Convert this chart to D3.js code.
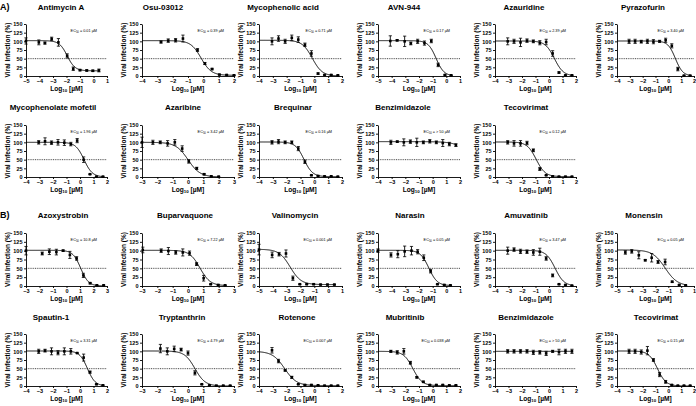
<!DOCTYPE html>
<html>
<head>
<meta charset="utf-8">
<script src="https://cdn.jsdelivr.net/npm/d3@7"></script>
<style>
  body { margin: 0; background: #fff; }
  svg { display: block; font-family: "Liberation Sans", Arial, sans-serif; }
  .axis path, .axis line { stroke: #000; stroke-width: 0.9; }
  .axis text { font-size: 5.5px; font-weight: bold; fill: #000; }
</style>
</head>
<body>
<div id="chart"></div>
<script>
// DATA
const titles = ['Antimycin A', 'Osu-03012', 'Mycophenolic acid', 'AVN-944', 'Azauridine', 'Pyrazofurin',
  'Mycophenolate mofetil', 'Azaribine', 'Brequinar', 'Benzimidazole', 'Tecovirimat',
  'Azoxystrobin', 'Buparvaquone', 'Valinomycin', 'Narasin', 'Amuvatinib', 'Monensin',
  'Spautin-1', 'Tryptanthrin', 'Rotenone', 'Mubritinib', 'Benzimidazole', 'Tecovirimat'];

const ec50Values = ['0.01', '0.39', '0.71', '0.17', '2.39', '3.40',
  '1.96', '3.42', '0.16', '> 50', '0.12',
  '10.8', '7.22', '0.001', '0.05', '3.47', '0.05',
  '3.31', '4.79', '0.007', '0.038', '> 50', '0.15'];

const xDomains = [[-5, 1], [-4, 2], [-4, 2], [-5, 1], [-4, 2], [-4, 2],
  [-4, 2], [-3, 3], [-4, 2], [-4, 2], [-4, 2],
  [-3, 3], [-3, 3], [-5, 1], [-5, 1], [-4, 2], [-5, 1],
  [-4, 2], [-3, 3], [-4, 2], [-4, 2], [-4, 2], [-4, 2]];

// log10 concentrations of each point
const std50 = [-3.06, -2.59, -2.11, -1.63, -1.16, -0.68, -0.21, 0.27, 0.74, 1.22, 1.70];
const logDose = [
  [-5.0, -4.05, -3.6, -3.1, -2.6, -1.95, -1.5, -1.0, -0.5, -0.05, 0.4],
  [-2.76, -2.29, -1.81, -1.33, -0.38, 0.1, 0.57, 1.05, 1.52, 2.0],
  std50,
  [-4.1, -3.6, -3.05, -2.6, -2.1, -1.6, -1.1, -0.6, -0.1, 0.35],
  std50,
  std50,
  std50,
  [-3.0, -2.29, -1.81, -1.33, -0.86, -0.38, 0.05, 0.57, 1.05, 1.52, 2.0],
  std50,
  std50,
  std50,
  [-3.0, -1.8, -1.27, -0.75, -0.25, 0.25, 0.75, 1.25, 1.75, 2.25, 2.75],
  [-2.95, -1.75, -1.28, -0.8, -0.34, 0.1, 0.56, 1.02, 1.48, 1.97, 2.42],
  [-5.0, -4.05, -3.55, -3.05, -2.55, -2.05, -1.55, -1.05, -0.55, -0.05, 0.45],
  [-5.0, -4.05, -3.55, -3.05, -2.55, -2.1, -1.65, -1.15, -0.65, -0.15, 0.3],
  std50,
  [-4.35, -3.85, -3.3, -2.8, -2.3, -1.8, -1.25, -0.7, -0.15, 0.35],
  std50,
  [-1.8, -1.35, -0.9, -0.45, 0.0, 0.45, 0.9, 1.4, 1.85, 2.3, 2.75],
  std50,
  std50,
  std50,
  std50
];

// viral infection (%) mean of each point
const infection = [
  [101, 97, 95, 107, 97, 58, 21, 17, 16, 15, 16],
  [98, 102, 103, 108, 75, 36, 20, 4, 3, 2],
  [100, 108, 100, 110, 105, 90, 65, 7, 3, 3, 2],
  [101, 103, 100, 94, 100, 95, 101, 32, 3, 2],
  [100, 100, 97, 102, 100, 96, 98, 65, 10, 2, 2],
  [100, 100, 99, 100, 99, 100, 103, 87, 20, 1, 1],
  [100, 103, 99, 100, 99, 95, 105, 50, 8, 1, 1],
  [100, 100, 100, 97, 100, 82, 45, 25, 8, 2, 1],
  [100, 102, 100, 100, 82, 44, 5, 3, 2, 2, 1],
  [100, 102, 100, 102, 100, 100, 103, 100, 98, 95, 92],
  [100, 97, 97, 98, 77, 23, 5, 2, 1, 1, 1],
  [100, 92, 97, 96, 100, 88, 78, 30, 8, 2, 2],
  [102, 100, 99, 95, 95, 93, 62, 22, 5, 3, 2],
  [103, 88, 90, 92, 22, 5, 5, 5, 4, 4, 4],
  [100, 88, 90, 98, 100, 97, 80, 42, 5, 3, 2],
  [100, 103, 98, 97, 95, 97, 78, 30, 5, 3, 1],
  [95, 98, 87, 73, 80, 68, 68, 12, 3, 2],
  [100, 102, 100, 96, 100, 100, 95, 82, 40, 5, 2],
  [108, 100, 107, 105, 95, 38, 5, 2, 1, 1, 1],
  [103, 72, 45, 25, 5, 3, 3, 2, 1, 1, 1],
  [100, 97, 100, 67, 25, 12, 3, 3, 3, 2, 2],
  [100, 100, 100, 100, 97, 97, 94, 100, 98, 100, 100],
  [100, 100, 98, 102, 75, 33, 12, 3, 1, 1, 1]
];

// error (SD) of each point
const errBar = [
  [9, 7, 3, 5, 11, 6, 5, 2, 2, 2, 4],
  [3, 5, 5, 10, 4, 3, 2, 1, 1, 1],
  [10, 8, 6, 8, 8, 5, 8, 2, 1, 1, 1],
  [15, 2, 15, 4, 6, 6, 5, 5, 1, 1],
  [10, 6, 12, 5, 4, 6, 8, 8, 2, 1, 1],
  [6, 6, 4, 6, 6, 3, 6, 6, 5, 1, 1],
  [5, 10, 5, 8, 8, 5, 6, 8, 1, 1, 1],
  [15, 6, 4, 8, 8, 8, 5, 3, 2, 1, 1],
  [5, 6, 4, 4, 6, 5, 1, 1, 1, 1, 1],
  [6, 2, 10, 5, 12, 4, 5, 4, 10, 5, 4],
  [5, 8, 8, 5, 4, 4, 1, 1, 1, 1, 1],
  [12, 4, 8, 8, 2, 10, 5, 6, 2, 1, 1],
  [8, 5, 10, 5, 10, 6, 4, 8, 1, 1, 1],
  [15, 8, 5, 10, 6, 1, 1, 1, 1, 1, 1],
  [5, 6, 10, 15, 12, 6, 8, 5, 1, 1, 1],
  [10, 5, 6, 5, 8, 10, 5, 4, 1, 1, 1],
  [5, 5, 10, 2, 12, 4, 8, 2, 1, 1],
  [6, 4, 10, 6, 10, 8, 1, 10, 3, 1, 1],
  [12, 10, 8, 4, 6, 6, 1, 1, 1, 1, 1],
  [8, 5, 2, 3, 1, 1, 1, 1, 1, 1, 1],
  [3, 5, 8, 4, 2, 2, 1, 1, 1, 1, 1],
  [5, 5, 5, 5, 6, 5, 6, 3, 8, 6, 6],
  [6, 6, 6, 12, 4, 6, 4, 1, 1, 1, 1]
];

// fitted dose-response parameters (top, bottom, log EC50, hill slope)
const fitTop    = [102, 102, 103, 102, 101, 101, 100, 100, 101, 102, 101, 101, 101, 104, 101, 101, 102, 101, 101, 100, 100, 100, 101];
const fitBottom = [15, 2, 0, 0, 0, 0, 0, 0, 1, 0, 1, 0, 1, 4, 1, 0, 0, 0, 0, 1, 1, 0, 0];
const fitLogEC  = [-1.95, -0.15, -0.15, -0.75, 0.4, 0.55, 0.3, 0.0, -0.75, 3.0, -0.95, 1.05, 0.78, -2.75, -1.28, 0.45, -1.25, 0.55, 0.45, -2.15, -1.45, 5, -0.85];
const fitHill   = [1.5, 1.3, 1.2, 1.5, 1.3, 1.5, 1.4, 1.1, 1.4, 0.8, 1.3, 1.5, 1.3, 1.1, 1.4, 1.3, 0.9, 1.5, 1.3, 1.0, 1.3, 1, 1.3];

const yTicks = [0, 25, 50, 75, 100, 125, 150];

// LAYOUT
const panelRow = [0, 0, 0, 0, 0, 0, 1, 1, 1, 1, 1, 2, 2, 2, 2, 2, 2, 3, 3, 3, 3, 3, 3];
const panelCol = [0, 1, 2, 3, 4, 5, 0, 1, 2, 3, 4, 0, 1, 2, 3, 4, 5, 0, 1, 2, 3, 4, 5];
const colLeft  = [26, 142, 259, 378, 495, 617];
const colRight = [107, 234, 342, 460, 576, 694];
const rowTop    = [24, 125, 233, 334];
const rowBottom = [76, 177, 286, 386];
const titleX = [61, 163, 283, 404, 524, 643, 53, 183, 293, 403, 526, 63, 185, 295, 410, 526, 644, 51, 182, 297, 405, 526, 656];
const titleY = [10, 110, 218, 320];

const svg = d3.select('#chart').append('svg')
  .attr('width', 696)
  .attr('height', 406);

// section letters
svg.append('text').attr('x', 0).attr('y', 10).attr('font-size', 9).attr('font-weight', 'bold').text('A)');
svg.append('text').attr('x', 0).attr('y', 218).attr('font-size', 9).attr('font-weight', 'bold').text('B)');

function hill(i, lx) {
  return fitBottom[i] + (fitTop[i] - fitBottom[i]) / (1 + Math.pow(10, fitHill[i] * (lx - fitLogEC[i])));
}

titles.forEach(function(title, i) {
  let r = panelRow[i], c = panelCol[i];
  let x = d3.scaleLinear().domain(xDomains[i]).range([colLeft[c], colRight[c]]);
  let y = d3.scaleLinear().domain([0, 150]).range([rowBottom[r], rowTop[r]]);
  let g = svg.append('g');

  // title
  g.append('text')
    .attr('x', titleX[i]).attr('y', titleY[r])
    .attr('text-anchor', 'middle')
    .attr('font-size', 8).attr('font-weight', 'bold')
    .text(title);

  // 50% line
  g.append('line')
    .attr('x1', x.range()[0]).attr('x2', x.range()[1])
    .attr('y1', y(50)).attr('y2', y(50))
    .attr('stroke', '#000').attr('stroke-width', 0.7)
    .attr('stroke-dasharray', '1,0.8');

  // axes
  let xt = d3.range(xDomains[i][0], xDomains[i][1] + 1);
  g.append('g').attr('class', 'axis')
    .attr('transform', 'translate(0,' + y(0) + ')')
    .call(d3.axisBottom(x).tickValues(xt).tickFormat(d3.format('d')).tickSize(2).tickSizeOuter(0).tickPadding(1.5));
  g.append('g').attr('class', 'axis')
    .attr('transform', 'translate(' + x.range()[0] + ',0)')
    .call(d3.axisLeft(y).tickValues(yTicks).tickSize(2).tickSizeOuter(0).tickPadding(1.5));

  // axis labels
  g.append('text')
    .attr('transform', 'translate(' + (x.range()[0] - 16.5) + ',' + ((y(0) + y(150)) / 2) + ') rotate(-90)')
    .attr('text-anchor', 'middle')
    .attr('font-size', 6.5).attr('font-weight', 'bold')
    .text('Viral Infection (%)');
  let xl = g.append('text')
    .attr('x', (x.range()[0] + x.range()[1]) / 2).attr('y', y(0) + 14.5)
    .attr('text-anchor', 'middle')
    .attr('font-size', 6.6).attr('font-weight', 'bold');
  xl.append('tspan').text('Log');
  xl.append('tspan').attr('font-size', 4.4).attr('dy', 1.5).text('10');
  xl.append('tspan').attr('dy', -1.5).text(' [\u00b5M]');

  // EC50 label
  let ec = g.append('text')
    .attr('x', x.range()[1] - 10).attr('y', y(126))
    .attr('text-anchor', 'end')
    .attr('font-size', 3.8);
  ec.append('tspan').text('EC');
  ec.append('tspan').attr('font-size', 2.7).attr('dy', 0.8).text('50');
  ec.append('tspan').attr('dy', -0.8).text(' = ' + ec50Values[i] + ' \u00b5M');

  // fitted curve
  let xs = logDose[i];
  let cx = d3.range(xDomains[i][0], d3.max(xs) + 0.1, 0.02);
  g.append('path')
    .datum(cx)
    .attr('fill', 'none').attr('stroke', '#000').attr('stroke-width', 1)
    .attr('d', d3.line().x(d => x(d)).y(d => y(hill(i, d))));

  // error bars and points
  let pts = xs.map((d, k) => ({lx: d, v: infection[i][k], e: errBar[i][k]}));
  let pg = g.append('g').selectAll('g').data(pts).enter().append('g');
  pg.append('line')
    .attr('x1', d => x(d.lx)).attr('x2', d => x(d.lx))
    .attr('y1', d => y(d.v + d.e)).attr('y2', d => y(Math.max(0, d.v - d.e)))
    .attr('stroke', '#000').attr('stroke-width', 0.9);
  pg.append('line')
    .attr('x1', d => x(d.lx) - 1.6).attr('x2', d => x(d.lx) + 1.6)
    .attr('y1', d => y(d.v + d.e)).attr('y2', d => y(d.v + d.e))
    .attr('stroke', '#000').attr('stroke-width', 0.8);
  pg.append('line')
    .attr('x1', d => x(d.lx) - 1.6).attr('x2', d => x(d.lx) + 1.6)
    .attr('y1', d => y(Math.max(0, d.v - d.e))).attr('y2', d => y(Math.max(0, d.v - d.e)))
    .attr('stroke', '#000').attr('stroke-width', 0.8);
  pg.append('rect')
    .attr('x', d => x(d.lx) - 1.3).attr('y', d => y(d.v) - 1.3)
    .attr('width', 2.6).attr('height', 2.6)
    .attr('fill', '#000');
});
</script>
</body>
</html>
